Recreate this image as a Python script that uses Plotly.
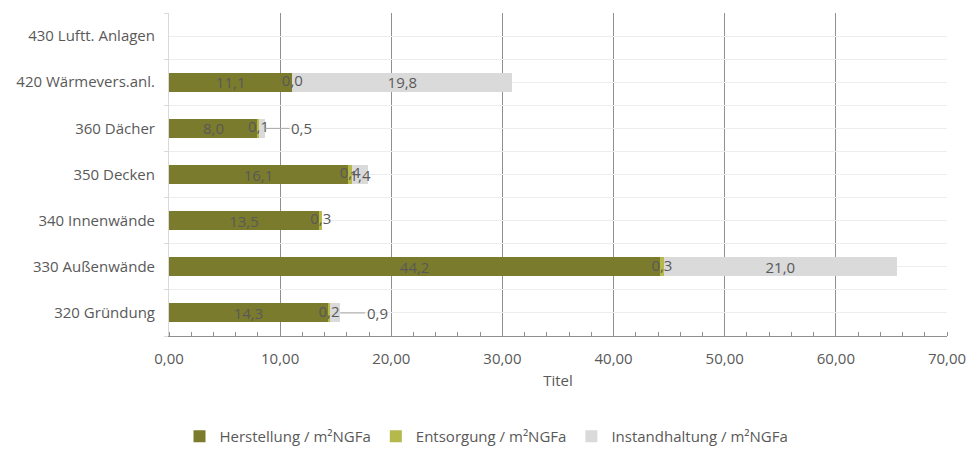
import plotly.graph_objects as go

# Cost groups (bottom to top) and their values per m² NGFa
categories = ["320 Gründung", "330 Außenwände", "340 Innenwände", "350 Decken",
              "360 Dächer", "420 Wärmevers.anl.", "430 Luftt. Anlagen"]
herstellung = [14.3, 44.2, 13.5, 16.1, 8.0, 11.1, None]
entsorgung = [0.2, 0.3, 0.3, 0.4, 0.1, 0.0, None]
instandhaltung = [0.9, 21.0, None, 1.4, 0.5, 19.8, None]

x_ticks = [0, 10, 20, 30, 40, 50, 60, 70]

C_HERST = "#7B7B2D"
C_ENTS = "#B5B84B"
C_INST = "#DADADA"
TXT = "#595959"
FONT = "Open Sans"
LBL = 15


def fmt(v):
    return "" if v is None else f"{v:.1f}".replace(".", ",")


def nz(v):
    return 0 if v is None else v


fig = go.Figure()

fig.add_trace(go.Bar(
    name="Herstellung / m²NGFa", y=categories, x=herstellung, orientation="h",
    marker=dict(color=C_HERST, line=dict(width=0)),
    text=[fmt(v) for v in herstellung], textposition="inside", textangle=0,
    insidetextanchor="middle", constraintext="none",
    textfont=dict(family=FONT, size=LBL, color=TXT),
    hoverinfo="skip",
))
fig.add_trace(go.Bar(
    name="Entsorgung / m²NGFa", y=categories, x=entsorgung, orientation="h",
    marker=dict(color=C_ENTS, line=dict(width=0)),
    hoverinfo="skip",
))
# large maintenance values are labelled inside their segment
fig.add_trace(go.Bar(
    name="Instandhaltung / m²NGFa", y=categories, x=instandhaltung, orientation="h",
    marker=dict(color=C_INST, line=dict(width=0)),
    text=[fmt(v) if (v is not None and v >= 1) else "" for v in instandhaltung],
    textposition="inside", textangle=0, insidetextanchor="middle",
    constraintext="none",
    textfont=dict(family=FONT, size=LBL, color=TXT),
    hoverinfo="skip",
))

# disposal labels sit centred on the thin disposal segment
ent_x, ent_y, ent_t = [], [], []
for c, h, e in zip(categories, herstellung, entsorgung):
    if e is None:
        continue
    ent_x.append(nz(h) + e / 2)
    ent_y.append(c)
    ent_t.append(fmt(e))
fig.add_trace(go.Scatter(
    x=ent_x, y=ent_y, text=ent_t, mode="text", yaxis="y2",
    textfont=dict(family=FONT, size=LBL, color=TXT),
    showlegend=False, hoverinfo="skip",
))

# small maintenance values get a label with a leader line
for c, h, e, i in zip(categories, herstellung, entsorgung, instandhaltung):
    if i is not None and i < 1:
        fig.add_annotation(
            x=nz(h) + nz(e) + i, y=c, text=fmt(i),
            showarrow=True, arrowhead=0, arrowwidth=1, arrowcolor="#A6A6A6",
            ax=37, ay=0, standoff=0,
            font=dict(family=FONT, size=LBL, color=TXT),
        )

fig.update_layout(
    width=973, height=450,
    margin=dict(l=169, r=26, t=13, b=114),
    paper_bgcolor="white", plot_bgcolor="white",
    barmode="stack", bargap=0.59,
    separators=",.",
    font=dict(family=FONT, color=TXT),
    showlegend=True,
    legend=dict(
        orientation="h", xref="container", yref="container",
        x=0.5, xanchor="center", y=0.03, yanchor="middle",
        traceorder="normal", itemwidth=30,
        font=dict(family=FONT, size=15, color=TXT),
    ),
    xaxis=dict(
        range=[0, 70], tickvals=x_ticks, tickformat=".2f", automargin=False,
        showgrid=True, gridcolor="#8F8F8F", gridwidth=1,
        zeroline=False, showline=True, linecolor="#8F8F8F", linewidth=1,
        ticks="", ticklabelstandoff=9,
        tickfont=dict(family=FONT, size=15, color=TXT),
        minor=dict(dtick=2, ticks="inside", ticklen=4, tickcolor="#8F8F8F",
                   showgrid=False),
        title=dict(text="Titel", font=dict(family=FONT, size=15, color=TXT),
                   standoff=8),
    ),
    yaxis=dict(
        type="category", categoryorder="array", categoryarray=categories,
        range=[-0.5, len(categories) - 0.5], automargin=False,
        tickson="boundaries", ticks="outside", ticklen=4, tickcolor="#D9D9D9",
        showgrid=True, gridcolor="#EDEDED", gridwidth=1,
        showline=True, linecolor="#D9D9D9", linewidth=1, zeroline=False,
        ticklabelstandoff=10,
        tickfont=dict(family=FONT, size=15, color=TXT),
    ),
    yaxis2=dict(
        type="category", categoryorder="array", categoryarray=categories,
        range=[-0.5, len(categories) - 0.5], overlaying="y", anchor="x",
        showgrid=True, gridcolor="#EDEDED", gridwidth=1, automargin=False,
        showticklabels=False, ticks="", showline=False, zeroline=False,
    ),
)

fig.write_html("out.html")
